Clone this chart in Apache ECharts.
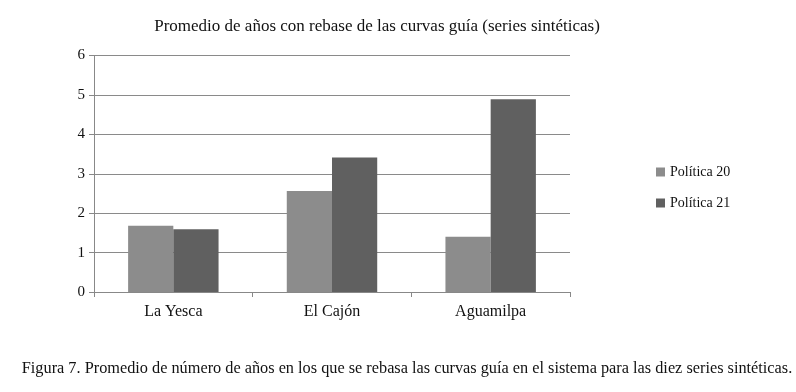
<!DOCTYPE html>
<html>
<head>
<meta charset="utf-8">
<script src="https://cdn.jsdelivr.net/npm/echarts@6/dist/echarts.min.js"></script>
<style>
  html, body { margin: 0; padding: 0; background: #fff; }
  #main { width: 796px; height: 392px; }
</style>
</head>
<body>
<div id="main"></div>
<script>
var categories = ['La Yesca', 'El Cajón', 'Aguamilpa'];
var politica20 = [1.68, 2.56, 1.40];
var politica21 = [1.59, 3.41, 4.89];
var yTicks = [0, 1, 2, 3, 4, 5, 6];

var chart = echarts.init(document.getElementById('main'));
var font = 'Liberation Serif';

var option = {
	backgroundColor: '#fff',
	animation: false,
	textStyle: { fontFamily: font },
	title: [{
		text: 'Promedio de años con rebase de las curvas guía (series sintéticas)',
		left: 372,
		top: 13,
		textAlign: 'center',
		textStyle: { fontFamily: font, fontSize: 17, fontWeight: 'normal', color: '#111' }
	}, {
		text: 'Figura 7. Promedio de número de años en los que se rebasa las curvas guía en el sistema para las diez series sintéticas.',
		left: 402,
		top: 356,
		textAlign: 'center',
		textStyle: { fontFamily: font, fontSize: 16.3, fontWeight: 'normal', color: '#111' }
	}],
	legend: {
		orient: 'vertical',
		left: 651,
		top: 160,
		itemWidth: 9,
		itemHeight: 9,
		itemGap: 17,
		icon: 'rect',
		textStyle: { fontFamily: font, fontSize: 14, color: '#111' },
		data: ['Política 20', 'Política 21']
	},
	grid: { left: 94, right: 226, top: 55.5, bottom: 100 },
	xAxis: {
		type: 'category',
		data: categories,
		axisLine: { lineStyle: { color: '#888' } },
		axisTick: { show: true, length: 5, alignWithLabel: false, lineStyle: { color: '#888' } },
		axisLabel: { fontFamily: font, fontSize: 16, color: '#111', margin: 12 }
	},
	yAxis: {
		type: 'value',
		min: yTicks[0],
		max: yTicks[yTicks.length - 1],
		interval: 1,
		axisLine: { show: true, lineStyle: { color: '#888' } },
		axisTick: { show: true, length: 5, lineStyle: { color: '#888' } },
		axisLabel: { fontFamily: font, fontSize: 15, color: '#111', margin: 9 },
		splitLine: { lineStyle: { color: '#8a8a8a' } }
	},
	series: [{
		name: 'Política 20',
		type: 'bar',
		data: politica20,
		barGap: '0%',
		barCategoryGap: '43%',
		itemStyle: { color: '#8c8c8c' }
	}, {
		name: 'Política 21',
		type: 'bar',
		data: politica21,
		barGap: '0%',
		barCategoryGap: '43%',
		itemStyle: { color: '#606060' }
	}]
};

chart.setOption(option);
</script>
</body>
</html>
